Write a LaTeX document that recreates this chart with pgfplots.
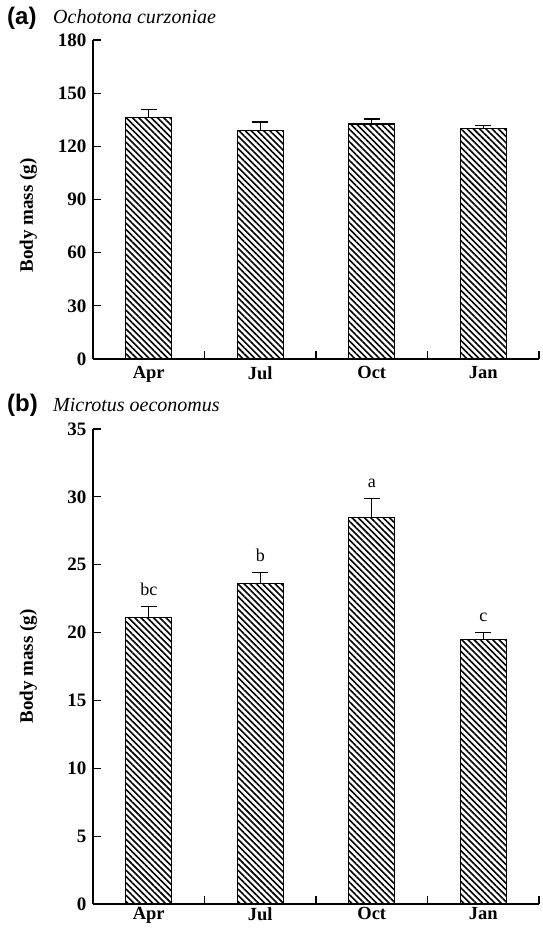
\documentclass[border=0pt]{standalone}
\usepackage{pgfplots}
\pgfplotsset{compat=1.18}
\usepackage{fontspec}
\setmainfont{Liberation Serif}
\newfontfamily\arial{Liberation Sans}
\usetikzlibrary{patterns.meta}

\pgfplotsset{
  myaxis/.style={
    scale only axis,
    width=446pt,
    xmin=0, xmax=4,
    axis x line=bottom, axis y line=left,
    axis line style={-, line width=1.3pt},
    tick align=inside,
    major tick length=8pt,
    tick style={line width=1.2pt, black},
    xtick={1,2,3,4}, xticklabels={},
    extra x ticks={0.5,1.5,2.5,3.5},
    extra x tick labels={Apr,Jul,Oct,Jan},
    extra x tick style={major tick length=0pt},
    /pgf/number format/assume math mode=true,
    yticklabel style={font=\fontsize{19}{22}\selectfont\bfseries, xshift=-3pt},
    xticklabel style={font=\fontsize{18.5}{22}\selectfont\bfseries},
    bar width=0.41,
    ylabel={Body mass (g)},
    ylabel style={font=\fontsize{19}{22}\selectfont\bfseries, anchor=center},
    clip=false,
  },
  hbar/.style={
    ybar, draw=black, line width=1.2pt,
    pattern={Lines[angle=-45,distance=4.4pt,line width=1.6pt]},
    error bars/.cd, y dir=plus, y explicit,
    error bar style={line width=1.2pt, black},
    error mark options={rotate=90, mark size=8pt, line width=1.2pt, black},
  },
}

\begin{document}
\begin{tikzpicture}
\path[use as bounding box] (0,0) rectangle (543pt,-931pt);

% Panel (a)
\begin{axis}[myaxis,
  at={(93pt,-359pt)}, anchor=south west,
  height=319pt,
  ymin=0, ymax=180, ytick={0,30,60,90,120,150,180},
  ylabel style={at={(axis description cs:-0.145,0.45)}},
  xticklabel style={yshift=-4pt},
]
\addplot[hbar] coordinates {
  (0.5,136.4) +- (0,4.6)
  (1.5,129.1) +- (0,4.6)
  (2.5,132.6) +- (0,2.8)
  (3.5,130.2) +- (0,1.7)
};
\end{axis}
\node[anchor=base west, inner sep=0pt, font=\arial\fontsize{24}{28}\selectfont\bfseries] at (7pt,-25pt) {(a)};
\node[anchor=base west, inner sep=0pt, font=\fontsize{20}{24}\selectfont\itshape] at (53pt,-24pt) {Ochotona curzoniae};

% Panel (b)
\begin{axis}[myaxis,
  at={(93pt,-904pt)}, anchor=south west,
  height=475pt,
  ymin=0, ymax=35, ytick={0,5,10,15,20,25,30,35},
  ylabel style={at={(axis description cs:-0.145,0.5)}},
]
\addplot[hbar] coordinates {
  (0.5,21.1) +- (0,0.8)
  (1.5,23.6) +- (0,0.8)
  (2.5,28.5) +- (0,1.4)
  (3.5,19.5) +- (0,0.5)
};
\addplot[draw=none, mark=none, nodes near coords, point meta=explicit symbolic,
  nodes near coords style={anchor=base, yshift=11pt, font=\fontsize{18}{20}\selectfont}]
  coordinates {
  (0.5,21.9) [bc]
  (1.5,24.4) [b]
  (2.5,29.9) [a]
  (3.5,20.0) [c]
};
\end{axis}
\node[anchor=base west, inner sep=0pt, font=\arial\fontsize{24}{28}\selectfont\bfseries] at (7pt,-411pt) {(b)};
\node[anchor=base west, inner sep=0pt, font=\fontsize{20}{24}\selectfont\itshape] at (53pt,-411pt) {Microtus oeconomus};
\end{tikzpicture}
\end{document}
